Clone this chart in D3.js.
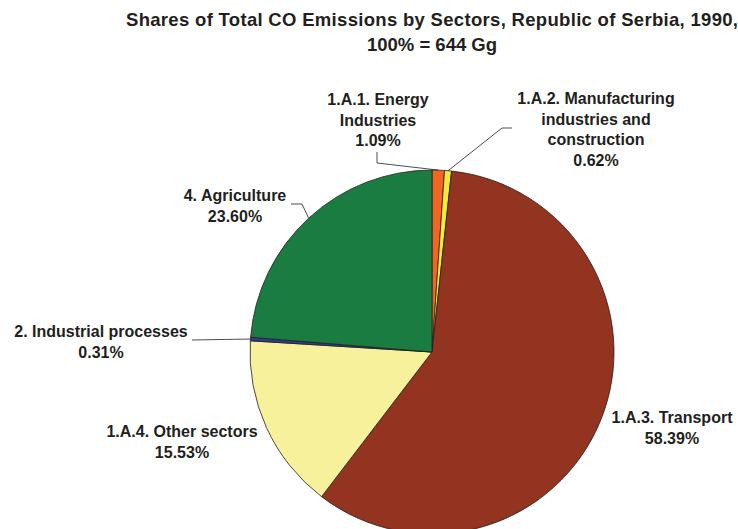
<!DOCTYPE html>
<html>
<head>
<meta charset="utf-8">
<script src="https://cdn.jsdelivr.net/npm/d3@7"></script>
<style>
  body { margin: 0; background: #fff; }
  text { font-family: "Liberation Sans", Arial, sans-serif; font-weight: bold; fill: #231f20; }
</style>
</head>
<body>
<div id="chart"></div>
<script>
// Chart data
const sectors = ["1.A.1. Energy Industries", "1.A.2. Manufacturing industries and construction",
  "1.A.3. Transport", "1.A.4. Other sectors", "2. Industrial processes", "4. Agriculture"];
const shares = [1.09, 0.62, 58.39, 15.53, 0.31, 23.60];
const labelLines = [
  ["1.A.1. Energy", "Industries"],
  ["1.A.2. Manufacturing", "industries and", "construction"],
  ["1.A.3. Transport"],
  ["1.A.4. Other sectors"],
  ["2. Industrial processes"],
  ["4. Agriculture"]
];
const colors = ["#f26522", "#f5e83a", "#933420", "#f7f19c", "#2e3d8f", "#1a7c40"];

const width = 738, height = 529;
const cx = 432, cy = 352, radius = 182;

const svg = d3.select('#chart').append('svg')
  .attr('width', width)
  .attr('height', height);

// Title
svg.append('text')
  .attr('x', cx).attr('y', 26)
  .attr('text-anchor', 'middle')
  .style('font-size', '18.5px')
  .attr('textLength', 612)
  .text('Shares of Total CO Emissions by Sectors, Republic of Serbia, 1990,');
svg.append('text')
  .attr('x', cx).attr('y', 51)
  .attr('text-anchor', 'middle')
  .style('font-size', '18.5px')
  .text('100% = 644 Gg');

// Pie
const pie = d3.pie().sort(null).value(d => d);
const arcs = pie(shares);
const arc = d3.arc().innerRadius(0).outerRadius(radius);

const g = svg.append('g').attr('transform', `translate(${cx},${cy})`);
g.selectAll('path')
  .data(arcs)
  .enter().append('path')
  .attr('d', arc)
  .attr('fill', (d, i) => colors[i])
  .attr('stroke', '#231f20')
  .attr('stroke-width', 0.8);

// Label layout: text anchor (centre of first baseline) and leader route
const labelPos = [
  { x: 378, y: 105, leader: [[377, 152], [377, 163]] },
  { x: 596, y: 104, leader: [[512, 128], [502, 128]] },
  { x: 672, y: 423, leader: null },
  { x: 182, y: 437, leader: null },
  { x: 101, y: 337, leader: [[192, 340]] },
  { x: 235, y: 201, leader: [[291, 204], [302, 204]] }
];
const lineH = 20.5;

arcs.forEach((a, i) => {
  const p = labelPos[i];
  const lines = labelLines[i].concat([shares[i].toFixed(2) + '%']);
  const t = svg.append('text')
    .attr('text-anchor', 'middle')
    .style('font-size', '16px');
  lines.forEach((s, k) => {
    t.append('tspan').attr('x', p.x).attr('y', p.y + k * lineH).text(s);
  });
  if (p.leader) {
    const mid = (a.startAngle + a.endAngle) / 2;
    const end = [cx + radius * Math.sin(mid), cy - radius * Math.cos(mid)];
    svg.append('path')
      .attr('d', d3.line()(p.leader.concat([end])))
      .attr('fill', 'none')
      .attr('stroke', '#231f20')
      .attr('stroke-width', 0.8);
  }
});
</script>
</body>
</html>
